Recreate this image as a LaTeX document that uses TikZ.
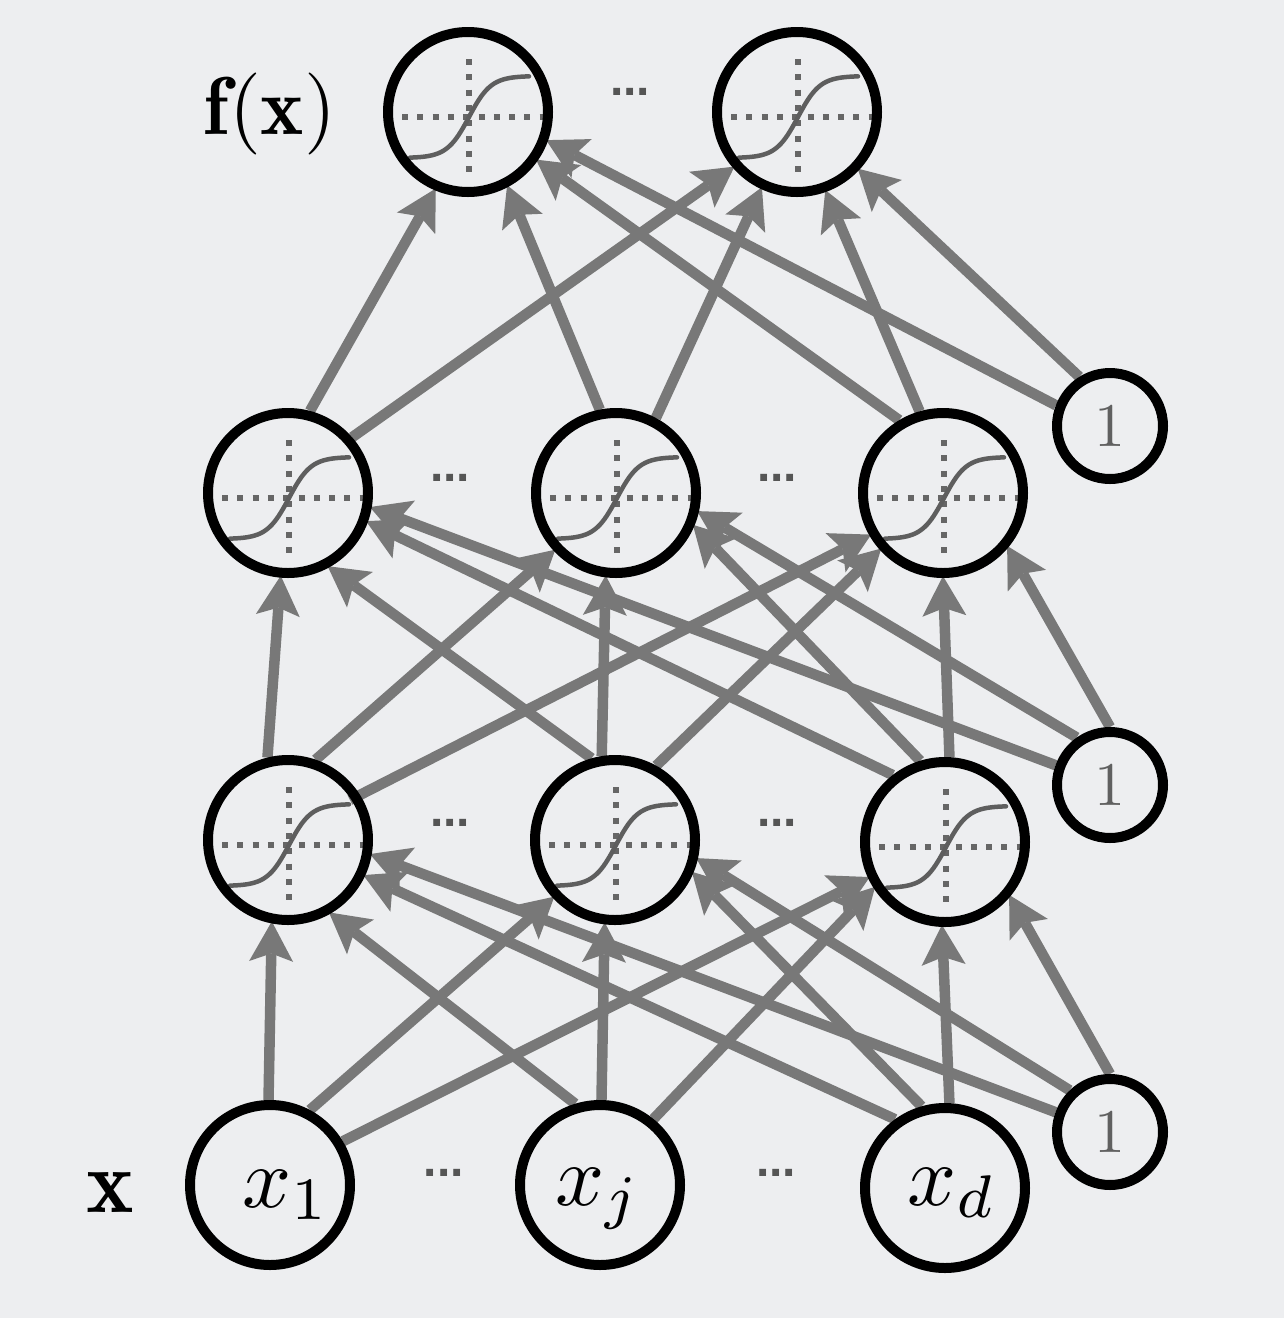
\RequirePackage{fix-cm}
\documentclass[tikz,border=0pt]{standalone}
\usepackage{graphicx}
\usepackage{fontspec}
\newfontfamily\dotsfont{Liberation Sans}
\usetikzlibrary{arrows.meta}
\definecolor{bgc}{HTML}{EDEEF0}
\definecolor{edgegray}{HTML}{787878}
\definecolor{curvegray}{HTML}{5E5E5E}
\definecolor{dotgray}{HTML}{666666}
\definecolor{onegray}{HTML}{606060}
\definecolor{ellgray}{HTML}{555555}
\pgfdeclarelayer{back}
\pgfdeclarelayer{mid}
\pgfsetlayers{back,mid,main}
\newcommand{\sigmoidin}[1]{%
  \begin{scope}[shift={(#1.center)}]
    \draw[axisdots] (-66,5) -- (78,5);
    \draw[axisdots] (1,-53) -- (1,60);
    \draw[sigcurve] plot[domain=-59:60,samples=60,smooth] ({\x+1},{5-41*tanh(\x/22)});
  \end{scope}}
\begin{document}
\begin{tikzpicture}[x=1pt,y=-1pt,
  neuron/.style={circle, draw=black, line width=10pt, minimum size=160pt, inner sep=0pt},
  biasnode/.style={circle, draw=black, line width=10pt, minimum size=106pt, inner sep=0pt, text=onegray},
  conn/.style={draw=edgegray, line width=10.5pt, -{Stealth[length=40pt,width=44pt,inset=8pt,line width=0pt]}, shorten >=-2pt},
  ell/.style={inner sep=0pt, text=ellgray, font=\fontsize{48}{50}\selectfont\dotsfont\bfseries},
  lbl/.style={inner sep=0pt, anchor=base},
  axisdots/.style={draw=dotgray, line width=6pt, dash pattern=on 6pt off 9.3pt},
  sigcurve/.style={draw=curvegray, line width=4.5pt, line cap=round}
]
\begin{pgfonlayer}{back}
\fill[bgc] (0,0) rectangle (1284,1318);
\end{pgfonlayer}
\useasboundingbox (0,0) rectangle (1284,1318);

% neurons
\node[neuron] (o1) at (468,112) {};
\node[neuron] (o2) at (797,112) {};
\node[neuron] (h21) at (288,493) {};
\node[neuron] (h22) at (616,493) {};
\node[neuron] (h23) at (943,493) {};
\node[neuron] (h11) at (288,840) {};
\node[neuron] (h12) at (615,840) {};
\node[neuron] (h13) at (945,842) {};
\node[neuron] (x1) at (270,1185) {};
\node[neuron] (xj) at (600,1185) {};
\node[neuron] (xd) at (945,1188) {};
\node[biasnode] (b1) at (1110,426) {\scalebox{6.2}{1}};
\node[biasnode] (b2) at (1110,785) {\scalebox{6.2}{1}};
\node[biasnode] (b3) at (1110,1132) {\scalebox{6.2}{1}};

% labels
\node[lbl] (lx1) at (286,1207) {\scalebox{8.6}{$x_1$}};
\node[lbl] (lxj) at (598,1205) {\scalebox{8.6}{$x_j$}};
\node[lbl] (lxd) at (952,1205) {\scalebox{8.6}{$x_d$}};
\node[lbl] (lf) at (270,134) {\scalebox{8.2}{$\mathbf{f}(\mathbf{x})$}};
\node[lbl] (lxx) at (110,1212) {\scalebox{9}{$\mathbf{x}$}};

% ellipses
\node[ell] (e0) at (630,92) {...};
\node[ell] (e1) at (450,478) {...};
\node[ell] (e2) at (777,478) {...};
\node[ell] (e3) at (450,823) {...};
\node[ell] (e4) at (777,823) {...};
\node[ell] (e5) at (444,1173) {...};
\node[ell] (e6) at (776,1173) {...};

\begin{pgfonlayer}{mid}
\foreach \n in {o1,o2,h21,h22,h23,h11,h12,h13} {\sigmoidin{\n}}

% inputs -> hidden 1
\draw[conn] (x1.91) -- (h11.259);
\draw[conn] (x1.62) -- (h12.223);
\draw[conn] (x1.31) -- (h13.205);
\draw[conn] (xj.107) -- (h11.300);
\draw[conn] (xj.89) -- (h12.263);
\draw[conn] (xj.51) -- (h13.213);
\draw[conn] (xd.126) -- (h11.335);
\draw[conn] (xd.106) -- (h12.337);
\draw[conn] (xd.87) -- (h13.268);
\draw[conn] (b3.160) -- (h11.350);
\draw[conn] (b3.134) -- (h12.347);
\draw[conn] (b3.90) -- (h13.320);

% hidden 1 -> hidden 2
\draw[conn] (h11.104) -- (h21.265);
\draw[conn] (h11.71) -- (h22.223);
\draw[conn] ([shift={(62,-40)}]h11.center) -- (h23.210);
\draw[conn] (h12.106) -- (h21.299);
\draw[conn] (h12.99) -- (h22.263);
\draw[conn] (h12.61) -- (h23.222);
\draw[conn] (h13.128) -- (h21.340);
\draw[conn] (h13.107) -- (h22.337);
\draw[conn] (h13.87) -- (h23.270);
\draw[conn] (b2.160) -- (h21.350);
\draw[conn] (b2.125) -- (h22.347);
\draw[conn] (b2.90) -- (h23.320);

% hidden 2 -> outputs
\draw[conn] (h21.75) -- (o1.247);
\draw[conn] (h21.41) -- (o2.221);
\draw[conn] (h22.101) -- (o1.298);
\draw[conn] (h22.62) -- (o2.245);
\draw[conn] (h23.121) -- (o1.325);
\draw[conn] (h23.106) -- (o2.290);
\draw[conn] (b1.159) -- (o1.340);
\draw[conn] (b1.122) -- (o2.317);
\end{pgfonlayer}
\end{tikzpicture}
\end{document}
